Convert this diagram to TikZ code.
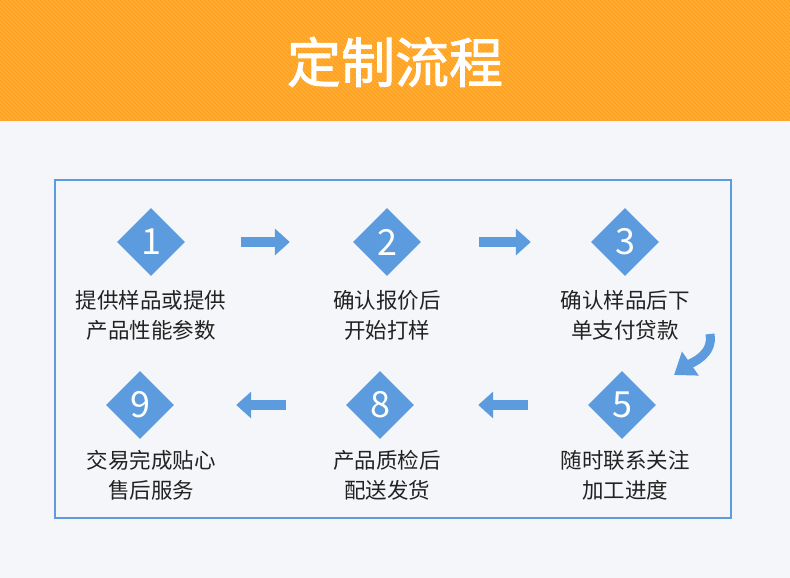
\documentclass[tikz,border=0pt]{standalone}
\usepackage{fontspec}
\usepackage{xcolor}
\usetikzlibrary{arrows.meta, positioning, shapes.geometric}
\newfontfamily\cjk{Noto Sans CJK SC}
\newfontfamily\cjktitle[FakeBold=1.6]{Noto Sans CJK SC}

\definecolor{pagebg}{HTML}{F5F6F9}
\definecolor{bandorange}{HTML}{FFA11C}
\definecolor{bandstripe}{HTML}{FFAE3A}
\definecolor{stepblue}{HTML}{5B9BDE}
\definecolor{textdark}{HTML}{222222}

\begin{document}
\begin{tikzpicture}[
        x=1pt, y=-1pt,
        every node/.style={font=\cjk},
        stepmark/.style={
            diamond,
            fill=stepblue,
            minimum width=68pt,
            minimum height=68pt,
            inner sep=0pt,
            text=white,
            font=\cjk\fontsize{36}{36}\selectfont
        },
        caption/.style={
            align=center,
            text=textdark,
            font=\cjk\fontsize{21.5}{30}\selectfont
        },
        flow/.style={
            draw=stepblue,
            line width=10pt,
            -{Triangle[length=15pt,width=26pt]}
        }
    ]

    % Page and header band
    \useasboundingbox (0,0) rectangle (790,578);
    \fill[pagebg] (0,0) rectangle (790,578);
    \fill[bandorange] (0,0) rectangle (790,121);
    \begin{scope}
        \clip (0,0) rectangle (790,121);
        \foreach \s in {-130,-126,...,790}
            \draw[bandstripe, line width=1.2pt] (\s,0) -- (\s+121,121);
    \end{scope}
    \node[text=white, font=\cjktitle\fontsize{54}{54}\selectfont] (title)
        at (395,62) {定制流程};

    % Frame
    \draw[stepblue, line width=1.2pt] (55,180) rectangle (731,518);

    % Top row
    \node[stepmark] (s1) at (151,242) {1};
    \node[stepmark] (s2) at (387,242) {2};
    \node[stepmark] (s3) at (625,242) {3};

    \node[caption] (t1) at (151,315)
        {提供样品或提供\\
         产品性能参数};
    \node[caption] (t2) at (387,315)
        {确认报价后\\
         开始打样};
    \node[caption] (t3) at (625,315)
        {确认样品后下\\
         单支付贷款};

    % Bottom row
    \node[stepmark] (s9) at (140,405) {9};
    \node[stepmark] (s8) at (380,405) {8};
    \node[stepmark] (s5) at (622,405) {5};

    \node[caption] (t9) at (151,475)
        {交易完成贴心\\
         售后服务};
    \node[caption] (t8) at (387,475)
        {产品质检后\\
         配送发货};
    \node[caption] (t5) at (625,475)
        {随时联系关注\\
         加工进度};

    % Arrows between steps
    \draw[flow, shorten <=56pt, shorten >=63pt] (s1.east) -- (s2.west);
    \draw[flow, shorten <=58pt, shorten >=60pt] (s2.east) -- (s3.west);
    \draw[flow, shorten <=60pt, shorten >=64pt] (s5.west) -- (s8.east);
    \draw[flow, shorten <=60pt, shorten >=62pt] (s8.west) -- (s9.east);

    % Turn from step 3 down to step 5
    \coordinate (turnA) at (710,334);
    \coordinate (turnB) at (674,375);
    \draw[stepblue, line width=9pt, -{Triangle[length=20pt,width=28pt]}]
        (turnA) to[out=-80, in=35] (turnB);

\end{tikzpicture}
\end{document}
